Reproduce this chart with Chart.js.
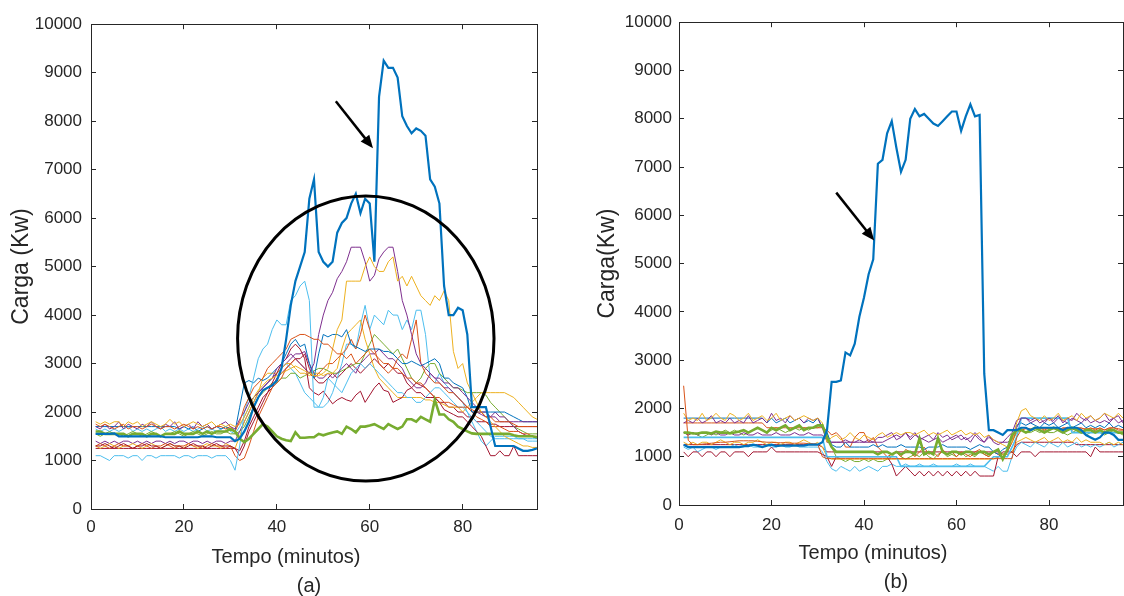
<!DOCTYPE html>
<html>
<head>
<meta charset="utf-8">
<script src="https://cdn.jsdelivr.net/npm/chart.js@4.4.1/dist/chart.umd.min.js"></script>
<style>
  body { margin: 0; background: #fff; width: 1124px; height: 596px; overflow: hidden; position: relative; }
  canvas { position: absolute; top: 0; }
</style>
</head>
<body>
<canvas id="chartA" width="560" height="596" style="left:0px"></canvas>
<canvas id="chartB" width="538" height="596" style="left:586px"></canvas>
<script>
// minute index of every sample
const minutes = [
  1,2,3,4,5,6,7,8,9,10,11,12,13,14,15,16,17,18,19,20,
  21,22,23,24,25,26,27,28,29,30,31,32,33,34,35,36,37,38,39,40,
  41,42,43,44,45,46,47,48,49,50,51,52,53,54,55,56,57,58,59,60,
  61,62,63,64,65,66,67,68,69,70,71,72,73,74,75,76,77,78,79,80,
  81,82,83,84,85,86,87,88,89,90,91,92,93,94,95,96];

const xTickStep = 20;
const yTickStep = 1000;
const xMax = 96;
const yMax = 10000;

// ---- panel (a) ----
const a1 = [1550,1550,1550,1550,1560,1500,1500,1500,1500,1500,
  1500,1500,1500,1500,1500,1480,1480,1480,1480,1480,
  1480,1480,1480,1500,1500,1500,1480,1480,1480,1480,
  1400,1450,1600,1800,2100,2300,2450,2500,2550,2650,
  2900,3500,4200,4700,5000,5300,6400,6800,5300,5100,
  5000,5100,5700,5900,6000,6300,6500,6100,6400,6300,
  5100,8500,9250,9100,9100,8900,8100,7900,7750,7850,
  7800,7700,6800,6650,6300,4600,4000,4000,4150,4100,
  3600,2100,2100,2100,2100,1700,1300,1300,1300,1300,
  1300,1250,1200,1200,1220,1250];
const a2 = [1750,1700,1750,1700,1650,1700,1750,1650,1700,1700,
  1650,1700,1750,1700,1650,1700,1700,1650,1700,1750,
  1700,1650,1700,1650,1700,1650,1700,1700,1650,1700,
  1600,1800,2100,2300,2500,2600,2700,2900,3000,3100,
  3200,3300,3500,3550,3600,3600,3550,3500,3500,3400,
  3400,3300,3200,3200,3100,3200,3000,3100,3200,3300,
  3200,3100,3000,3000,2900,2900,2800,2700,2700,2600,
  2600,2500,2400,2300,2300,2200,2200,2150,2100,2100,
  2100,2050,2000,2000,1900,1900,1800,1800,1800,1800,
  1750,1700,1700,1700,1700,1700];
const a3 = [1800,1750,1800,1750,1800,1800,1700,1800,1750,1800,
  1700,1750,1800,1750,1700,1750,1850,1750,1800,1700,
  1750,1800,1750,1700,1750,1800,1700,1750,1700,1750,
  1700,1750,1900,2100,2300,2450,2550,2650,2700,2750,
  2800,2850,2900,2950,2900,2850,2800,2750,2750,2800,
  2900,3300,3700,3900,4700,4700,4700,4700,5000,5200,
  5000,4900,4900,5100,5200,4700,4800,4600,4800,4600,
  4400,4300,4200,4400,4300,4500,4300,3250,2900,3000,
  2600,2400,2200,2000,1900,1800,1700,1600,1500,1450,
  1400,1350,1300,1300,1270,1270];
const a4 = [1700,1650,1750,1650,1700,1800,1650,1750,1700,1650,
  1750,1700,1800,1700,1650,1750,1700,1800,1650,1700,
  1750,1650,1800,1700,1750,1650,1700,1750,1800,1700,
  1650,1850,2000,2200,2300,2400,2500,2600,2700,2900,
  3000,3100,3200,3100,3000,2900,2800,3000,3600,4000,
  4300,4470,4750,4900,5100,5400,5400,5400,5100,4700,
  4820,5160,5300,5400,5400,4900,4300,4000,3600,3200,
  3000,2900,2800,2700,2700,2600,2600,2500,2500,2400,
  2300,2200,2100,2000,2000,1900,1900,1800,1800,1800,
  1800,1800,1800,1800,1800,1800];
const a5 = [1600,1600,1550,1550,1550,1550,1550,1500,1550,1550,
  1550,1500,1550,1550,1500,1550,1550,1550,1600,1550,
  1550,1550,1600,1550,1600,1550,1600,1600,1600,1650,
  1600,1450,1380,1450,1550,1650,1750,1700,1600,1500,
  1450,1420,1400,1580,1470,1470,1480,1480,1550,1520,
  1550,1580,1600,1550,1700,1650,1580,1700,1700,1720,
  1750,1700,1650,1750,1700,1650,1700,1850,1850,1800,
  1900,1850,1800,2250,1950,1950,1850,1800,1700,1650,
  1600,1560,1550,1550,1550,1550,1550,1550,1550,1550,
  1520,1500,1500,1500,1500,1480];
const a6 = [1100,1100,1050,1000,1100,1100,1100,1050,1100,1100,
  1000,1100,1100,1050,1100,1100,1100,1100,1050,1100,
  1100,1050,1100,1100,1100,1050,1100,1100,1100,1000,
  800,1300,2000,2300,2700,3100,3300,3400,3700,3900,
  3800,3800,4300,4400,4600,4700,4300,2100,2100,2300,
  2700,2600,2500,2400,2600,2800,2900,3000,2900,3000,
  2900,2800,2700,2600,2500,2400,2400,2300,2300,2200,
  2200,2300,2400,2500,2500,2400,2300,2200,2100,2100,
  2000,1900,1800,1700,1600,1500,1450,1450,1450,1450,
  1450,1450,1450,1450,1450,1450];
const a7 = [1300,1300,1350,1300,1250,1300,1350,1300,1250,1300,
  1300,1350,1300,1300,1250,1300,1350,1300,1300,1250,
  1300,1350,1300,1300,1250,1300,1350,1300,1300,1300,
  1250,1100,1300,1600,1800,2000,2200,2400,2600,2800,
  3000,3100,3300,3400,3300,3100,2500,2400,2350,2430,
  2300,2170,2250,2300,2250,2220,2350,2430,2200,2350,
  2500,2600,2450,2420,2200,2250,2300,2450,2500,2600,
  2550,2500,2400,2300,2200,2050,2000,1950,1900,1900,
  1800,1700,1600,1500,1300,1100,1100,1200,1100,1100,
  1300,1100,1100,1100,1100,1100];
const a8 = [1700,1700,1700,1700,1700,1700,1700,1700,1700,1700,
  1700,1700,1700,1700,1700,1700,1700,1700,1650,1700,
  1650,1700,1600,1650,1700,1650,1700,1650,1700,1650,
  1600,2100,2600,2650,2600,2700,2650,2700,2800,2900,
  3000,3200,3400,3500,3350,3400,3000,2700,3200,3600,
  3550,3600,3600,3550,3700,3400,3350,3300,3250,3300,
  3300,3300,3250,3250,3200,3100,3000,3000,3050,3000,
  2950,3000,3050,3100,3000,2700,2700,2600,2550,2500,
  2300,2000,2000,2000,2000,2000,2000,2000,2000,1950,
  1900,1850,1800,1800,1800,1800];
const a9 = [1300,1350,1300,1250,1300,1350,1300,1300,1250,1300,
  1350,1300,1250,1300,1300,1350,1300,1250,1300,1300,
  1350,1300,1300,1250,1300,1350,1300,1300,1250,1300,
  1100,1000,1050,1300,1600,1900,2100,2300,2500,2600,
  2700,2900,3000,3100,3000,2900,2800,2700,2800,2900,
  3000,3000,3100,3200,3300,3500,3300,3600,4000,3700,
  3300,3000,2900,2800,2900,3100,3200,3100,3500,3900,
  3000,2800,2700,2600,2600,2500,2400,2400,2300,2200,
  2100,2000,1900,1850,1800,1700,1700,1700,1650,1600,
  1600,1600,1550,1550,1500,1500];
const a10 = [1300,1250,1300,1350,1300,1250,1300,1300,1350,1300,
  1250,1300,1350,1300,1250,1300,1350,1300,1300,1250,
  1350,1300,1250,1300,1350,1300,1300,1250,1350,1300,
  1250,1500,1800,2000,2200,2400,2700,2800,2800,2800,
  2900,3000,3000,2900,2800,2800,2750,2800,2800,2750,
  2800,2800,2900,3300,3600,3700,3800,3900,3500,3200,
  2900,2700,2600,2500,2400,2300,2300,2300,2300,2300,
  2300,2250,2250,2200,2200,2150,2100,2100,2100,2000,
  2100,2200,2300,2400,2400,2400,2400,2400,2400,2350,
  2300,2200,2100,2000,1900,1850];
const a11 = [1400,1350,1400,1350,1400,1350,1400,1400,1350,1400,
  1350,1400,1350,1400,1400,1350,1400,1350,1400,1400,
  1350,1400,1400,1350,1400,1350,1400,1400,1350,1400,
  1400,1600,1800,2000,2200,2400,2500,2600,2700,2800,
  2900,3000,3100,3200,3200,3250,3000,2800,2700,2700,
  2800,2700,2800,2900,3000,2900,2800,3000,3100,3200,
  3200,3300,3200,3100,3100,3000,2900,2700,2600,2500,
  2500,2600,2800,2700,2600,2500,2500,2400,2300,2200,
  2100,2000,2000,1950,1900,1900,2000,1900,1900,1800,
  1700,1600,1550,1500,1500,1450];
const a12 = [1550,1500,1550,1600,1550,1550,1500,1550,1600,1550,
  1500,1550,1600,1550,1500,1550,1550,1600,1550,1500,
  1550,1600,1550,1500,1550,1600,1550,1550,1600,1550,
  1550,1600,1700,1900,2100,2300,2400,2500,2600,2600,
  2700,2700,2800,2800,2700,2750,2800,2850,2900,2900,
  2850,2800,2800,2850,2900,2950,3000,3000,3200,3400,
  3600,3500,3400,3300,3200,3300,3100,2900,2700,2600,
  2700,2900,3000,3000,2800,2700,2600,2500,2500,2450,
  2400,2400,2400,2400,2350,2200,2100,2000,1900,1800,
  1700,1650,1600,1550,1550,1550];
const a13 = [1650,1600,1650,1600,1650,1600,1650,1700,1600,1650,
  1600,1650,1600,1650,1700,1600,1650,1600,1650,1600,
  1650,1600,1650,1700,1600,1650,1600,1650,1700,1600,
  1550,1700,1900,2100,2300,2400,2500,2600,2700,2800,
  2900,3000,2900,2800,2600,2400,2300,2200,2100,2100,
  2200,2400,2700,3000,3400,3400,3300,3800,4200,3700,
  4000,3900,3800,4100,4000,4000,3700,3900,3700,4100,
  4100,3600,2700,2600,2800,2600,2500,2400,2300,2200,
  2000,1800,1600,1400,1300,1400,1500,1500,1500,1500,
  1500,1450,1450,1400,1400,1400];
const a14 = [1250,1250,1250,1250,1250,1250,1250,1250,1250,1250,
  1250,1250,1250,1250,1250,1250,1250,1250,1250,1250,
  1250,1250,1250,1250,1250,1250,1250,1250,1250,1250,
  1250,1200,1400,1700,1900,2100,2300,2400,2500,2700,
  2800,2900,3000,3100,3100,3200,2900,2700,2600,2600,
  2700,2800,2700,2800,2900,3000,2900,2800,2900,3000,
  3100,3000,2900,3000,2900,2800,2800,2600,2500,2400,
  2400,2300,2300,2300,2200,2200,2100,2100,2000,2000,
  1900,1900,1800,1800,1800,1750,1750,1700,1700,1700,
  1700,1700,1700,1700,1700,1700];

// ---- panel (b) ----
const b1 = [1250,1200,1200,1200,1200,1200,1200,1200,1200,1200,
  1200,1200,1200,1220,1220,1250,1230,1200,1230,1250,
  1220,1230,1230,1230,1230,1230,1230,1250,1250,1250,
  1300,1550,2550,2550,2580,3160,3100,3340,3900,4300,
  4780,5090,7070,7150,7700,7950,7400,6900,7150,8000,
  8200,8050,8100,8000,7900,7850,7950,8050,8150,8150,
  7750,8050,8300,8050,8080,2720,1550,1550,1500,1450,
  1550,1550,1550,1600,1600,1550,1600,1600,1600,1600,
  1600,1600,1550,1600,1600,1600,1550,1450,1400,1350,
  1400,1500,1500,1450,1350,1350];
const b2 = [2470,1340,1250,1250,1260,1270,1280,1290,1300,1300,
  1310,1320,1330,1330,1330,1330,1320,1310,1300,1300,
  1290,1290,1290,1280,1280,1280,1280,1270,1270,1260,
  1000,960,960,960,960,960,960,960,960,960,
  960,960,960,960,960,960,960,960,960,960,
  960,960,960,960,960,960,960,960,960,960,
  960,960,960,960,960,960,960,960,960,960,
  960,960,1400,1550,1580,1580,1580,1580,1580,1580,
  1580,1580,1580,1580,1580,1580,1580,1580,1580,1580,
  1580,1560,1580,1600,1580,1560];
const b3 = [1900,1750,1800,1750,1900,1750,1800,1900,1800,1750,
  1900,1850,1750,1800,1900,1750,1800,1850,1750,1800,
  1900,1750,1800,1850,1750,1800,1850,1800,1750,1800,
  1700,1300,1400,1450,1350,1400,1500,1400,1350,1450,
  1400,1350,1450,1500,1400,1450,1500,1450,1500,1500,
  1450,1500,1550,1450,1500,1450,1500,1550,1450,1500,
  1550,1450,1500,1450,1500,1400,1450,1350,1300,1250,
  1200,1300,1700,1950,2000,1850,1800,1750,1850,1750,
  1800,1900,1750,1800,1850,1750,1900,1800,1850,1750,
  1800,1900,1850,1800,1900,1800];
const b4 = [1700,1750,1700,1800,1700,1750,1850,1700,1750,1700,
  1800,1700,1750,1700,1850,1700,1750,1800,1700,1900,
  1750,1800,1700,1850,1750,1800,1700,1800,1750,1800,
  1600,1300,1300,1300,1300,1300,1300,1300,1300,1300,
  1300,1300,1300,1300,1350,1400,1450,1400,1500,1350,
  1450,1400,1350,1300,1350,1400,1300,1350,1400,1450,
  1350,1400,1300,1450,1350,1300,1400,1350,1300,1300,
  1300,1350,1600,1800,1800,1750,1800,1700,1750,1800,
  1750,1850,1700,1800,1750,1900,1800,1750,1850,1750,
  1800,1900,1750,1800,1850,1700];
const b5 = [1500,1500,1480,1480,1500,1500,1480,1520,1500,1500,
  1480,1500,1520,1550,1500,1550,1600,1550,1500,1600,
  1550,1600,1650,1550,1600,1650,1550,1600,1600,1650,
  1650,1400,1200,1100,1100,1100,1100,1100,1100,1100,
  1100,1100,1050,1100,1100,1050,1100,1050,1100,1100,
  1050,1380,1050,1100,1050,1380,1100,1050,1100,1100,
  1050,1100,1100,1050,1100,1100,1050,1100,1150,950,
  1150,1450,1550,1550,1500,1550,1600,1550,1500,1550,
  1600,1550,1500,1550,1600,1550,1500,1550,1550,1500,
  1550,1500,1550,1550,1500,1500];
const b6 = [1400,1400,1400,1400,1400,1400,1400,1400,1400,1400,
  1400,1400,1400,1400,1400,1400,1400,1400,1400,1400,
  1400,1400,1400,1400,1400,1400,1400,1400,1400,1400,
  1400,1000,1000,1000,1000,1000,1000,1000,1000,1000,
  1000,1000,1000,1000,1000,1000,1000,800,800,800,
  800,800,800,800,800,800,800,800,800,800,
  800,800,800,800,800,800,900,1000,1000,1000,
  1000,1200,1400,1800,1800,1800,1800,1800,1800,1800,
  1800,1800,1800,1800,1500,1500,1500,1500,1500,1500,
  1500,1500,1500,1500,1500,1500];
const b7 = [1100,1000,1100,1100,1000,1100,1100,1000,1100,1100,
  1000,1100,1100,1100,1000,1100,1100,1100,1100,1200,
  1100,1100,1100,1100,1100,1100,1100,1100,1100,1100,
  1050,1000,800,1000,1000,1000,1000,1000,1000,1000,
  1000,1000,1000,1000,1000,850,600,700,800,700,
  600,700,600,700,600,700,600,700,600,700,
  600,700,600,700,600,600,600,600,1000,1100,
  1100,1100,1000,1100,1100,1100,1000,1100,1100,1100,
  1100,1100,1100,1100,1100,1100,1100,1100,1000,1200,
  1100,1100,1100,1100,1100,1100];
const b8 = [1800,1800,1800,1800,1800,1800,1800,1800,1800,1800,
  1800,1800,1800,1800,1800,1800,1800,1800,1700,1800,
  1700,1750,1800,1700,1750,1800,1700,1750,1700,1800,
  1600,1500,1250,1200,1200,1300,1200,1200,1200,1200,
  1200,1250,1200,1250,1200,1200,1200,1250,1200,1200,
  1200,1200,1150,1200,1200,1200,1250,1200,1200,1200,
  1200,1200,1150,1200,1250,1200,1200,1100,1050,1150,
  1200,1400,1650,1700,1650,1700,1650,1600,1700,1650,
  1700,1600,1650,1700,1600,1650,1700,1600,1650,1600,
  1650,1600,1700,1600,1650,1600];
const b9 = [1700,1700,1700,1700,1700,1700,1700,1700,1700,1700,
  1700,1700,1700,1700,1700,1700,1700,1700,1600,1600,
  1600,1600,1600,1600,1600,1600,1600,1600,1600,1600,
  1600,1550,1450,1500,1400,1200,1200,1400,1500,1500,
  1300,1400,1200,1100,1000,1050,1100,1000,1150,1100,
  1000,1100,1200,1050,1100,1000,1150,1050,1100,1000,
  1100,1050,1000,1100,1150,1050,1000,1100,1050,1000,
  1100,1300,1550,1600,1600,1550,1600,1600,1550,1600,
  1600,1550,1600,1600,1550,1600,1600,1550,1600,1550,
  1600,1550,1600,1600,1550,1550];
const b10 = [1300,1250,1300,1250,1300,1300,1250,1300,1350,1300,
  1250,1300,1300,1250,1300,1300,1350,1300,1250,1300,
  1300,1250,1300,1300,1250,1300,1350,1300,1250,1300,
  1200,1000,950,950,950,950,950,950,950,950,
  950,950,950,950,950,950,950,950,950,950,
  950,950,950,950,950,950,950,950,950,950,
  950,950,950,950,950,950,950,950,1000,1050,
  1050,1100,1300,1350,1400,1350,1300,1350,1400,1300,
  1350,1400,1300,1350,1300,1400,1300,1350,1300,1300,
  1300,1250,1300,1250,1300,1250];
const b11 = [1500,1450,1500,1450,1500,1500,1450,1500,1450,1450,
  1500,1450,1450,1500,1450,1450,1500,1450,1450,1450,
  1500,1450,1450,1450,1500,1450,1450,1500,1450,1450,
  1450,1350,1300,1300,1300,1350,1300,1300,1350,1300,
  1350,1300,1400,1400,1450,1500,1350,1400,1500,1400,
  1500,1350,1400,1450,1350,1500,1400,1450,1350,1400,
  1450,1350,1400,1500,1400,1300,1450,1300,1250,1300,
  1400,1500,1750,1800,1800,1700,1750,1800,1700,1800,
  1700,1800,1750,1700,1800,1750,1700,1800,1700,1750,
  1700,1750,1700,1800,1700,1750];
const b12 = [1500,1450,1500,1450,1400,1450,1500,1450,1500,1550,
  1500,1550,1500,1450,1500,1550,1600,1550,1500,1550,
  1600,1550,1500,1550,1600,1550,1600,1550,1600,1600,
  1650,1500,1200,1000,950,900,950,900,900,950,
  900,950,900,900,950,1000,1100,1000,950,1000,
  1050,1000,1100,1000,950,1050,1100,1000,1050,1000,
  1100,1000,1050,1000,1100,1050,1000,1100,1150,1050,
  1100,1300,1500,1550,1500,1500,1550,1500,1550,1500,
  1500,1550,1500,1450,1500,1550,1500,1450,1500,1550,
  1500,1450,1500,1550,1500,1450];
const b13 = [1200,1150,1200,1100,1150,1200,1200,1150,1200,1200,
  1200,1250,1200,1200,1250,1200,1200,1200,1250,1200,
  1200,1250,1200,1200,1250,1200,1200,1200,1200,1200,
  1100,900,750,700,800,750,700,800,700,750,
  800,750,700,800,800,850,800,800,850,800,
  800,850,800,800,850,800,800,800,800,850,
  800,800,850,800,800,800,750,700,800,700,
  700,1000,1200,1300,1250,1200,1300,1250,1200,1300,
  1250,1200,1300,1200,1250,1300,1200,1250,1200,1250,
  1200,1250,1300,1200,1250,1300];
const b14 = [1250,1250,1250,1250,1250,1250,1250,1250,1250,1250,
  1250,1250,1250,1250,1250,1250,1250,1250,1250,1250,
  1250,1250,1250,1250,1250,1250,1250,1250,1250,1250,
  1200,1100,1100,1100,1100,1100,1100,1100,1100,1100,
  1100,1100,1100,1100,1100,1050,1100,1100,1100,1100,
  1100,1100,1100,1100,1100,1100,1100,1100,1100,1100,
  1100,1100,1100,1100,1100,1100,1100,1100,1100,1050,
  1050,1100,1250,1300,1300,1300,1300,1300,1300,1300,
  1300,1300,1300,1300,1300,1250,1250,1250,1250,1250,
  1250,1250,1250,1250,1250,1250];

// annotations, in data units
const ellipseA = { x: 59.15, y: 3517, rx: 27.6, ry: 2940 };
const arrowA = { from: [52.7, 8410], to: [60.7, 7440] };
const arrowB = { from: [34, 6470], to: [42.2, 5480] };

const ink = '#262626';
const C = {
  blue: '#0072BD', orange: '#D95319', yellow: '#EDB120', purple: '#7E2F8E',
  green: '#77AC30', cyan: '#4DBEEE', red: '#A2142F'
};

Chart.defaults.font.family = '"Liberation Sans", Arial, Helvetica, sans-serif';
Chart.defaults.color = ink;

const annotate = {
  id: 'annotate',
  afterDatasetsDraw(chart, args, opts) {
    const { ctx, scales: { x, y } } = chart;
    ctx.save();
    ctx.strokeStyle = '#000';
    ctx.fillStyle = '#000';
    if (opts.ellipse) {
      const e = opts.ellipse;
      const cx = x.getPixelForValue(e.x), cy = y.getPixelForValue(e.y);
      const rx = x.getPixelForValue(e.x + e.rx) - cx;
      const ry = cy - y.getPixelForValue(e.y + e.ry);
      ctx.lineWidth = 3;
      ctx.beginPath();
      ctx.ellipse(cx, cy, rx, ry, 0, 0, Math.PI * 2);
      ctx.stroke();
    }
    for (const a of opts.arrows || []) {
      const x0 = x.getPixelForValue(a.from[0]), y0 = y.getPixelForValue(a.from[1]);
      const x1 = x.getPixelForValue(a.to[0]), y1 = y.getPixelForValue(a.to[1]);
      const ang = Math.atan2(y1 - y0, x1 - x0);
      const len = 13, half = 5.5;
      ctx.lineWidth = 2.5;
      ctx.beginPath();
      ctx.moveTo(x0, y0);
      ctx.lineTo(x1 - Math.cos(ang) * len * 0.8, y1 - Math.sin(ang) * len * 0.8);
      ctx.stroke();
      ctx.beginPath();
      ctx.moveTo(x1, y1);
      ctx.lineTo(x1 - Math.cos(ang) * len - Math.sin(ang) * half, y1 - Math.sin(ang) * len + Math.cos(ang) * half);
      ctx.lineTo(x1 - Math.cos(ang) * len + Math.sin(ang) * half, y1 - Math.sin(ang) * len - Math.cos(ang) * half);
      ctx.closePath();
      ctx.fill();
    }
    ctx.restore();
  },
  afterDraw(chart, args, opts) {
    const { ctx, chartArea } = chart;
    const mid = (chartArea.left + chartArea.right) / 2;
    ctx.save();
    ctx.fillStyle = ink;
    ctx.textAlign = 'center';
    ctx.textBaseline = 'middle';
    ctx.font = '20px "Liberation Sans", Arial, sans-serif';
    ctx.fillText(opts.xTitle, mid - 28, chartArea.bottom + 48);
    ctx.fillText(opts.caption, mid - 5, chartArea.bottom + 77);
    ctx.restore();
  }
};

function makeChart(id, series, p) {
  const datasets = series.map(s => ({
    data: s.values.map((v, i) => ({ x: minutes[i], y: v })),
    borderColor: s.color,
    borderWidth: s.width || 1,
    pointRadius: 0,
    tension: 0,
    fill: false
  }));
  const grid = { drawOnChartArea: false, tickLength: -5, color: ink, tickColor: ink };
  const border = { display: true, color: ink, width: 1 };
  return new Chart(document.getElementById(id), {
    type: 'line',
    data: { datasets },
    options: {
      responsive: false,
      animation: false,
      devicePixelRatio: 1,
      layout: { padding: { top: 20, right: p.padRight, bottom: 0, left: 0 } },
      plugins: {
        legend: { display: false },
        tooltip: { enabled: false },
        annotate: { xTitle: 'Tempo (minutos)', caption: p.caption, ellipse: p.ellipse, arrows: p.arrows }
      },
      scales: {
        x: {
          type: 'linear', position: 'bottom', min: 0, max: xMax,
          ticks: { stepSize: xTickStep, includeBounds: false, padding: p.xPad, maxRotation: 0,
                   font: { size: 17 }, color: ink, callback: v => String(v) },
          grid, border,
          afterFit: s => { s.height = p.xHeight; }
        },
        x2: {
          type: 'linear', position: 'top', min: 0, max: xMax,
          ticks: { stepSize: xTickStep, includeBounds: false, display: false },
          grid, border,
          afterFit: s => { s.height = 0; }
        },
        y: {
          type: 'linear', position: 'left', min: 0, max: yMax,
          ticks: { stepSize: yTickStep, padding: p.yPad, font: { size: 17 }, color: ink,
                   callback: v => String(v) },
          title: { display: true, text: p.yTitle, font: { size: 23 }, color: ink, padding: { top: 8, bottom: 0 } },
          grid, border,
          afterFit: s => { s.width = p.yWidth; }
        },
        y2: {
          type: 'linear', position: 'right', min: 0, max: yMax,
          ticks: { stepSize: yTickStep, display: false },
          grid, border,
          afterFit: s => { s.width = 0; }
        }
      }
    },
    plugins: [annotate]
  });
}

makeChart('chartA', [
  { values: a1, color: C.blue, width: 2.2 },
  { values: a5, color: C.green, width: 2.6 },
  { values: a2, color: C.orange }, { values: a3, color: C.yellow },
  { values: a4, color: C.purple }, { values: a6, color: C.cyan },
  { values: a7, color: C.red }, { values: a8, color: C.blue },
  { values: a9, color: C.orange }, { values: a10, color: C.yellow },
  { values: a11, color: C.purple }, { values: a12, color: C.green },
  { values: a13, color: C.cyan }, { values: a14, color: C.red }
], {
  caption: '(a)', yTitle: 'Carga (Kw)', padRight: 23, yWidth: 91, xHeight: 87,
  xPad: 13, yPad: 14, ellipse: ellipseA, arrows: [arrowA]
});

makeChart('chartB', [
  { values: b1, color: C.blue, width: 2.2 },
  { values: b5, color: C.green, width: 2.6 },
  { values: b2, color: C.orange }, { values: b3, color: C.yellow },
  { values: b4, color: C.purple }, { values: b6, color: C.cyan, width: 1.6 },
  { values: b7, color: C.red }, { values: b8, color: C.blue },
  { values: b9, color: C.orange }, { values: b10, color: C.yellow },
  { values: b11, color: C.purple }, { values: b12, color: C.green },
  { values: b13, color: C.cyan }, { values: b14, color: C.red }
], {
  caption: '(b)', yTitle: 'Carga(Kw)', padRight: 1, yWidth: 93, xHeight: 91,
  xPad: 15, yPad: 12, ellipse: null, arrows: [arrowB]
});
</script>
</body>
</html>
